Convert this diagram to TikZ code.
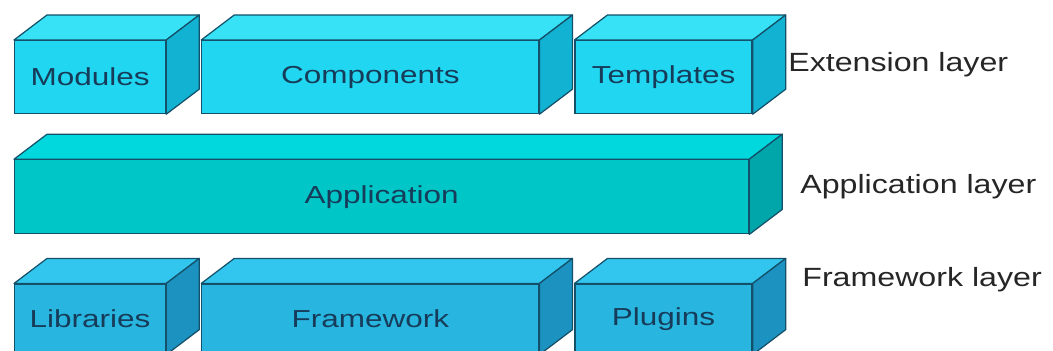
\documentclass[tikz,border=0pt]{standalone}
\usepackage{fontspec}
\setmainfont{Liberation Sans}[FakeStretch=1.28]
\newfontfamily\layerfont{Liberation Sans}[FakeStretch=1.22]
\usepackage{tikz}
\usetikzlibrary{positioning, calc}
\definecolor{extfront}{RGB}{32, 214, 240}
\definecolor{exttop}{RGB}{56, 226, 246}
\definecolor{extside}{RGB}{18, 178, 210}
\definecolor{appfront}{RGB}{0, 198, 200}
\definecolor{apptop}{RGB}{0, 216, 222}
\definecolor{appside}{RGB}{0, 166, 170}
\definecolor{fwfront}{RGB}{40, 182, 224}
\definecolor{fwtop}{RGB}{50, 198, 238}
\definecolor{fwside}{RGB}{28, 146, 192}
\definecolor{edgeblue}{RGB}{20, 80, 105}
\definecolor{labelnavy}{RGB}{22, 60, 90}

\tikzset{
    slab/.style={draw=edgeblue, line width=0.7pt, anchor=north west, inner sep=0pt,
        minimum height=1.46cm, text=labelnavy, font=\fontsize{14}{16}\selectfont},
    slabface/.style={draw=edgeblue, line width=0.7pt, line join=round},
    laylabel/.style={anchor=base west, inner sep=0pt, text=black!85,
        font=\layerfont\fontsize{15}{18}\selectfont}
}

\begin{document}
\begin{tikzpicture}
    \useasboundingbox (0,0) rectangle (21.06,7.02);

    % Extension layer
    \node[slab, fill=extfront, minimum width=3.02cm] (mod) at (0.28,6.22) {Modules};
    \node[slab, fill=extfront, minimum width=6.74cm, right=0.7cm of mod] (comp) {Components};
    \node[slab, fill=extfront, minimum width=3.54cm, right=0.7cm of comp] (tmpl) {Templates};

    % Application layer
    \node[slab, fill=appfront, minimum width=14.68cm, minimum height=1.48cm,
        below=0.9cm of mod.south west, anchor=north west] (app) {Application};

    % Framework layer
    \node[slab, fill=fwfront, minimum width=3.02cm, minimum height=1.4cm,
        below=0.98cm of app.south west, anchor=north west] (lib) {Libraries};
    \node[slab, fill=fwfront, minimum width=6.74cm, minimum height=1.4cm, right=0.7cm of lib] (fwk) {Framework};
    \node[slab, fill=fwfront, minimum width=3.54cm, minimum height=1.4cm, right=0.7cm of fwk] (plug) {Plugins};

    % Top and side faces of every block
    \foreach \n/\tone in {mod/ext, comp/ext, tmpl/ext, app/app, lib/fw, fwk/fw, plug/fw} {
        \filldraw[slabface, fill=\tone top] (\n.north west) -- ++(0.66,0.5)
            -- ($(\n.north east)+(0.66,0.5)$) -- (\n.north east) -- cycle;
        \filldraw[slabface, fill=\tone side] (\n.north east) -- ++(0.66,0.5)
            -- ($(\n.south east)+(0.66,0.5)$) -- (\n.south east) -- cycle;
    }

    % Layer names
    \node[laylabel] (extlab) at (15.76,5.58) {Extension layer};
    \node[laylabel] (applab) at (16.0,3.14) {Application layer};
    \node[laylabel] (fwlab) at (16.04,1.28) {Framework layer};
\end{tikzpicture}
\end{document}
